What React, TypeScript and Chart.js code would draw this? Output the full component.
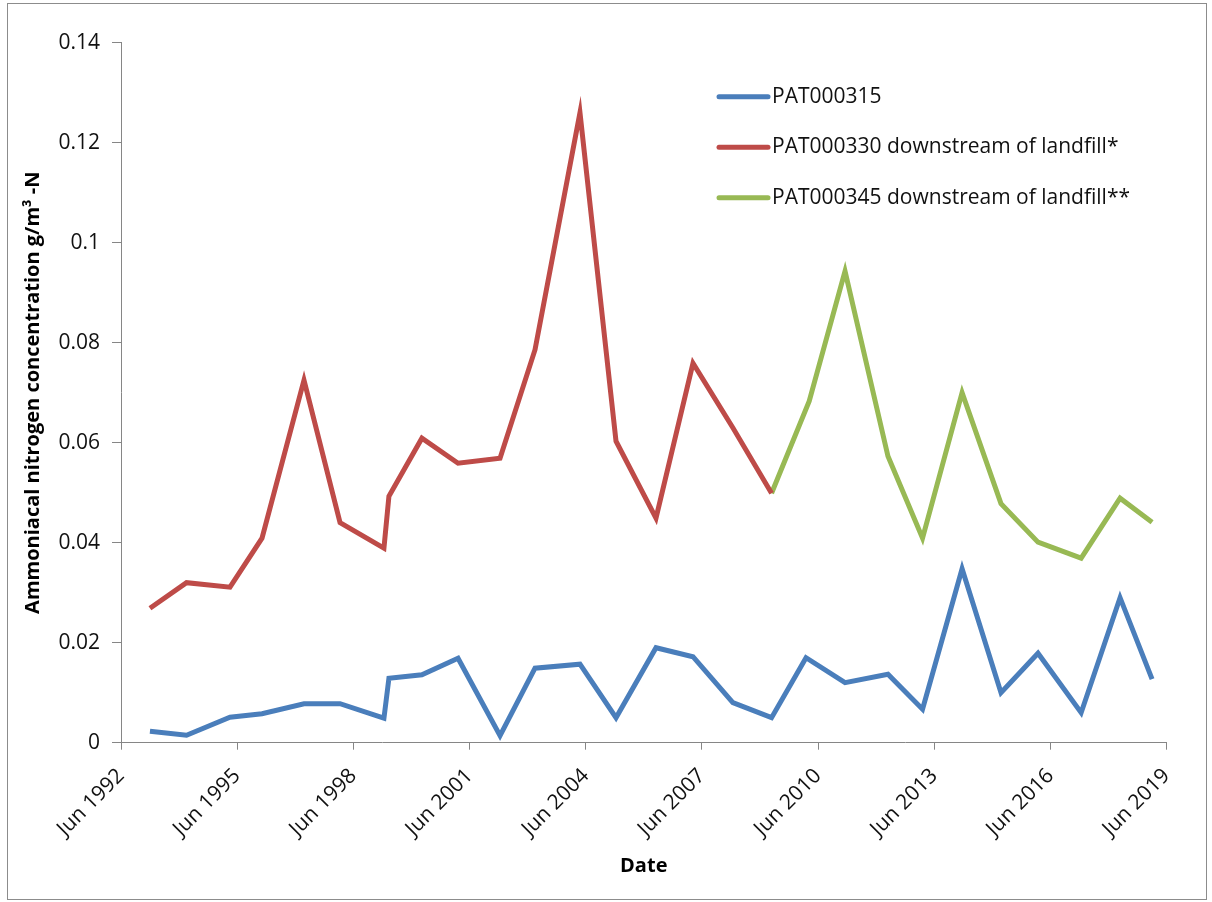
import React, { useEffect, useRef } from "react";
import { Chart, registerables } from "chart.js";

Chart.register(...registerables);

const FONT = '"Open Sans", "Noto Sans", sans-serif';

const seriesLabels = [
  "PAT000315",
  "PAT000330 downstream of landfill*",
  "PAT000345 downstream of landfill**",
];
const seriesColors = ["#4A7EBB", "#BE4B48", "#98B954"];

const blueDates = [
  "1993-03-01", "1994-02-09", "1995-03-26", "1996-01-22", "1997-02-21", "1998-01-27",
  "1999-03-17", "1999-05-03", "2000-03-09", "2001-02-13", "2002-03-16", "2003-02-09",
  "2004-04-08", "2005-03-14", "2006-03-26", "2007-03-10", "2008-03-20", "2009-03-20",
  "2010-02-08", "2011-02-11", "2012-03-22", "2013-02-11", "2014-02-19", "2015-02-21",
  "2016-02-05", "2017-03-18", "2018-03-20", "2019-01-16",
];
const blueValues = [
  0.0023, 0.0015, 0.0051, 0.0058, 0.0078, 0.0078,
  0.0049, 0.0129, 0.0136, 0.0169, 0.0014, 0.0149,
  0.0157, 0.005, 0.019, 0.0172, 0.008, 0.005,
  0.017, 0.012, 0.0137, 0.0067, 0.0348, 0.01,
  0.0179, 0.006, 0.029, 0.0127,
];

const redDates = [
  "1993-03-01", "1994-02-09", "1995-03-26", "1996-01-22", "1997-02-21", "1998-01-27",
  "1999-03-17", "1999-05-03", "2000-03-09", "2001-02-13", "2002-03-16", "2003-02-09",
  "2004-04-08", "2005-03-14", "2006-03-26", "2007-03-10", "2008-03-20", "2009-03-20",
];
const redValues = [
  0.0269, 0.032, 0.0311, 0.0409, 0.0725, 0.044,
  0.0389, 0.0493, 0.0609, 0.0559, 0.0569, 0.0786,
  0.126, 0.0603, 0.0449, 0.0759, 0.063, 0.0499,
];

const greenDates = [
  "2009-03-20", "2010-03-10", "2011-02-11", "2012-03-22", "2013-02-11", "2014-02-19",
  "2015-02-21", "2016-02-05", "2017-03-18", "2018-03-20", "2019-01-16",
];
const greenValues = [
  0.0499, 0.0683, 0.0943, 0.0573, 0.0409, 0.07,
  0.0478, 0.0401, 0.0369, 0.0489, 0.0441,
];

const tickYears = [1992, 1995, 1998, 2001, 2004, 2007, 2010, 2013, 2016, 2019];
const yMin = 0;
const yMax = 0.14;
const yStep = 0.02;

const xTitle = "Date";
const yTitle = "Ammoniacal nitrogen concentration g/m\u00B3 -N";

const toMs = (s: string) => {
  const [y, m, d] = s.split("-").map(Number);
  return Date.UTC(y, m - 1, d);
};
const junMs = (y: number) => Date.UTC(y, 5, 1);

const toPoints = (dates: string[], values: number[]) =>
  dates.map((d, i) => ({ x: toMs(d), y: values[i] }));

const frameAndLegend = {
  id: "frameAndLegend",
  beforeDraw(chart: any) {
    const ctx = chart.ctx;
    ctx.save();
    ctx.fillStyle = "#ffffff";
    ctx.fillRect(0, 0, chart.width, chart.height);
    ctx.strokeStyle = "#8c8c8c";
    ctx.lineWidth = 1;
    ctx.strokeRect(7.5, 3.5, chart.width - 13, chart.height - 6);
    ctx.restore();
  },
  afterDraw(chart: any) {
    const ctx = chart.ctx;
    const area = chart.chartArea;
    const x0 = area.left + (area.right - area.left) * 0.572;
    const y0 = area.top + 54;
    ctx.save();
    chart.data.datasets.forEach((ds: any, i: number) => {
      const y = y0 + i * 50.5;
      ctx.strokeStyle = ds.borderColor;
      ctx.lineWidth = 5;
      ctx.lineCap = "round";
      ctx.beginPath();
      ctx.moveTo(x0, y);
      ctx.lineTo(x0 + 49, y);
      ctx.stroke();
      ctx.fillStyle = "#111111";
      ctx.font = `21px ${FONT}`;
      ctx.textBaseline = "middle";
      ctx.textAlign = "left";
      ctx.fillText(ds.label, x0 + 53, y);
    });
    ctx.restore();
  },
};

export default function App() {
  const canvasRef = useRef<HTMLCanvasElement | null>(null);

  useEffect(() => {
    if (!canvasRef.current) return;
    const datasets = [
      { dates: blueDates, values: blueValues },
      { dates: redDates, values: redValues },
      { dates: greenDates, values: greenValues },
    ].map((s, i) => ({
      label: seriesLabels[i],
      data: toPoints(s.dates, s.values),
      borderColor: seriesColors[i],
      backgroundColor: seriesColors[i],
      borderWidth: 5,
      pointRadius: 0,
      tension: 0,
      fill: false,
    }));

    const chart = new Chart(canvasRef.current, {
      type: "line",
      data: { datasets },
      plugins: [frameAndLegend],
      options: {
        animation: false,
        responsive: true,
        maintainAspectRatio: false,
        devicePixelRatio: 1,
        layout: { padding: { left: 0, right: 45.5, top: 42.7, bottom: 0 } },
        plugins: {
          legend: { display: false },
          tooltip: { enabled: false },
        },
        scales: {
          x: {
            type: "linear",
            min: junMs(tickYears[0]),
            max: junMs(tickYears[tickYears.length - 1]),
            afterBuildTicks: (scale: any) => {
              scale.ticks = tickYears.map((y) => ({ value: junMs(y) }));
            },
            afterFit: (scale: any) => {
              scale.height = 159.3;
            },
            grid: {
              display: true,
              drawOnChartArea: false,
              drawTicks: true,
              tickLength: 7,
              color: "#868686",
            },
            border: { display: true, color: "#868686", width: 1 },
            ticks: {
              autoSkip: false,
              minRotation: 45,
              maxRotation: 45,
              padding: 14,
              color: "#111111",
              font: { family: FONT, size: 21 },
              callback: (value: any) => "Jun " + new Date(Number(value)).getUTCFullYear(),
            },
            title: {
              display: true,
              text: xTitle,
              color: "#000",
              font: { family: FONT, size: 20, weight: "bold" },
              padding: { top: 0, bottom: 24 },
            },
          },
          y: {
            type: "linear",
            min: yMin,
            max: yMax,
            afterFit: (scale: any) => {
              scale.width = 121;
            },
            grid: {
              display: true,
              drawOnChartArea: false,
              drawTicks: true,
              tickLength: 9,
              color: "#868686",
            },
            border: { display: true, color: "#868686", width: 1 },
            ticks: {
              stepSize: yStep,
              padding: 12,
              color: "#111111",
              font: { family: FONT, size: 21 },
              callback: (value: any) => String(Math.round(Number(value) * 100) / 100),
            },
            title: {
              display: true,
              text: yTitle,
              color: "#000",
              font: { family: FONT, size: 20, weight: "bold" },
              padding: { top: 21, bottom: 0 },
            },
          },
        },
      },
    });
    return () => chart.destroy();
  }, []);

  return (
    <div style={{ position: "absolute", left: 0, top: 0, width: 1212, height: 902 }}>
      <canvas ref={canvasRef} />
    </div>
  );
}
